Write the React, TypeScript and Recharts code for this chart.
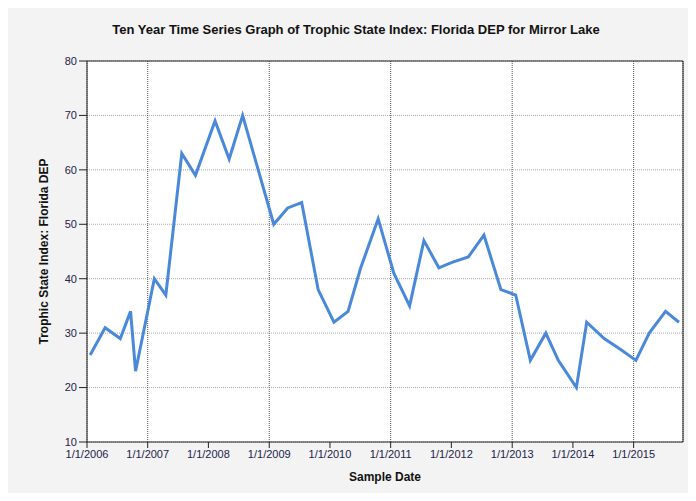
import {
  CartesianGrid,
  Label,
  Line,
  LineChart,
  ReferenceLine,
  XAxis,
  YAxis,
} from 'recharts'

const sampleDates = [
  '2006-01-20', '2006-04-20', '2006-07-20', '2006-09-20', '2006-10-20',
  '2007-02-10', '2007-04-20', '2007-07-25', '2007-10-15', '2008-02-10',
  '2008-05-05', '2008-07-25', '2009-01-28', '2009-04-22', '2009-07-15',
  '2009-10-22', '2010-01-25', '2010-04-20', '2010-07-05', '2010-10-18',
  '2011-01-20', '2011-04-25', '2011-07-20', '2011-10-18', '2012-01-05',
  '2012-04-12', '2012-07-15', '2012-10-25', '2013-01-22', '2013-04-20',
  '2013-07-22', '2013-10-05', '2014-01-22', '2014-03-25', '2014-07-08',
  '2014-10-15', '2015-01-15', '2015-04-05', '2015-07-12', '2015-10-01',
]

const tsiValues = [
  26, 31, 29, 34, 23,
  40, 37, 63, 59, 69,
  62, 70, 50, 53, 54,
  38, 32, 34, 42, 51,
  41, 35, 47, 42, 43,
  44, 48, 38, 37, 25,
  30, 25, 20, 32, 29,
  27, 25, 30, 34, 32,
]

const yearTicks = [2006, 2007, 2008, 2009, 2010, 2011, 2012, 2013, 2014, 2015]
const yTicks = [10, 20, 30, 40, 50, 60, 70, 80]
const domainStart = '2006-01-01'
const domainEnd = '2015-10-25'

const chartData = sampleDates.map((d, i) => ({ t: Date.parse(d), tsi: tsiValues[i] }))
const xTicks = yearTicks.map((y) => Date.parse(`${y}-01-01`))
const xMin = Date.parse(domainStart)
const xMax = Date.parse(domainEnd)

const font = '"Liberation Sans", Arial, sans-serif'
const tickStyle = { fontSize: 11, fill: '#22224a', fontFamily: font }

export default function App() {
  return (
    <div
      style={{
        position: 'relative',
        margin: -8,
        width: 696,
        height: 501,
        overflow: 'hidden',
        background: '#fff',
        fontFamily: font,
      }}
    >
      <div
        style={{
          position: 'absolute',
          left: 4,
          top: 5,
          width: 720,
          height: 520,
          border: '1px solid #333',
          background: '#f3f3f3',
        }}
      />
      <div
        style={{
          position: 'absolute',
          left: 0,
          top: 22,
          width: 712,
          textAlign: 'center',
          fontSize: 13,
          fontWeight: 'bold',
          color: '#111',
        }}
      >
        Ten Year Time Series Graph of Trophic State Index: Florida DEP for Mirror Lake
      </div>
      <div style={{ position: 'absolute', left: 0, top: 0 }}>
        <LineChart
          width={696}
          height={501}
          data={chartData}
          margin={{ top: 61, right: 13, bottom: 29, left: 42 }}
        >
          <CartesianGrid
            horizontal
            vertical={false}
            fill="#fff"
            stroke="#aaa"
            strokeDasharray="1 1"
          />
          <CartesianGrid horizontal={false} vertical stroke="#555" strokeDasharray="1 1" />
          <XAxis
            dataKey="t"
            type="number"
            scale="time"
            domain={[xMin, xMax]}
            ticks={xTicks}
            tickFormatter={(v: number) => `1/1/${new Date(v).getUTCFullYear()}`}
            tick={tickStyle}
            tickSize={6}
            height={30}
            stroke="#222"
            allowDataOverflow
          >
            <Label
              value="Sample Date"
              position="bottom"
              offset={0}
              style={{ fontSize: 12, fontWeight: 'bold', fill: '#111', fontFamily: font }}
            />
          </XAxis>
          <YAxis
            domain={[10, 80]}
            ticks={yTicks}
            tick={tickStyle}
            tickSize={8}
            width={45}
            stroke="#222"
            allowDataOverflow
          >
            <Label
              value="Trophic State Index: Florida DEP"
              angle={-90}
              position="insideLeft"
              offset={2}
              style={{ fontSize: 12, fontWeight: 'bold', fill: '#111', fontFamily: font, textAnchor: 'middle' }}
            />
          </YAxis>
          <ReferenceLine y={80} stroke="#222" />
          <ReferenceLine x={xMax} stroke="#222" />
          <Line
            type="linear"
            dataKey="tsi"
            stroke="#4a88da"
            strokeWidth={3}
            dot={false}
            isAnimationActive={false}
          />
        </LineChart>
      </div>
    </div>
  )
}
